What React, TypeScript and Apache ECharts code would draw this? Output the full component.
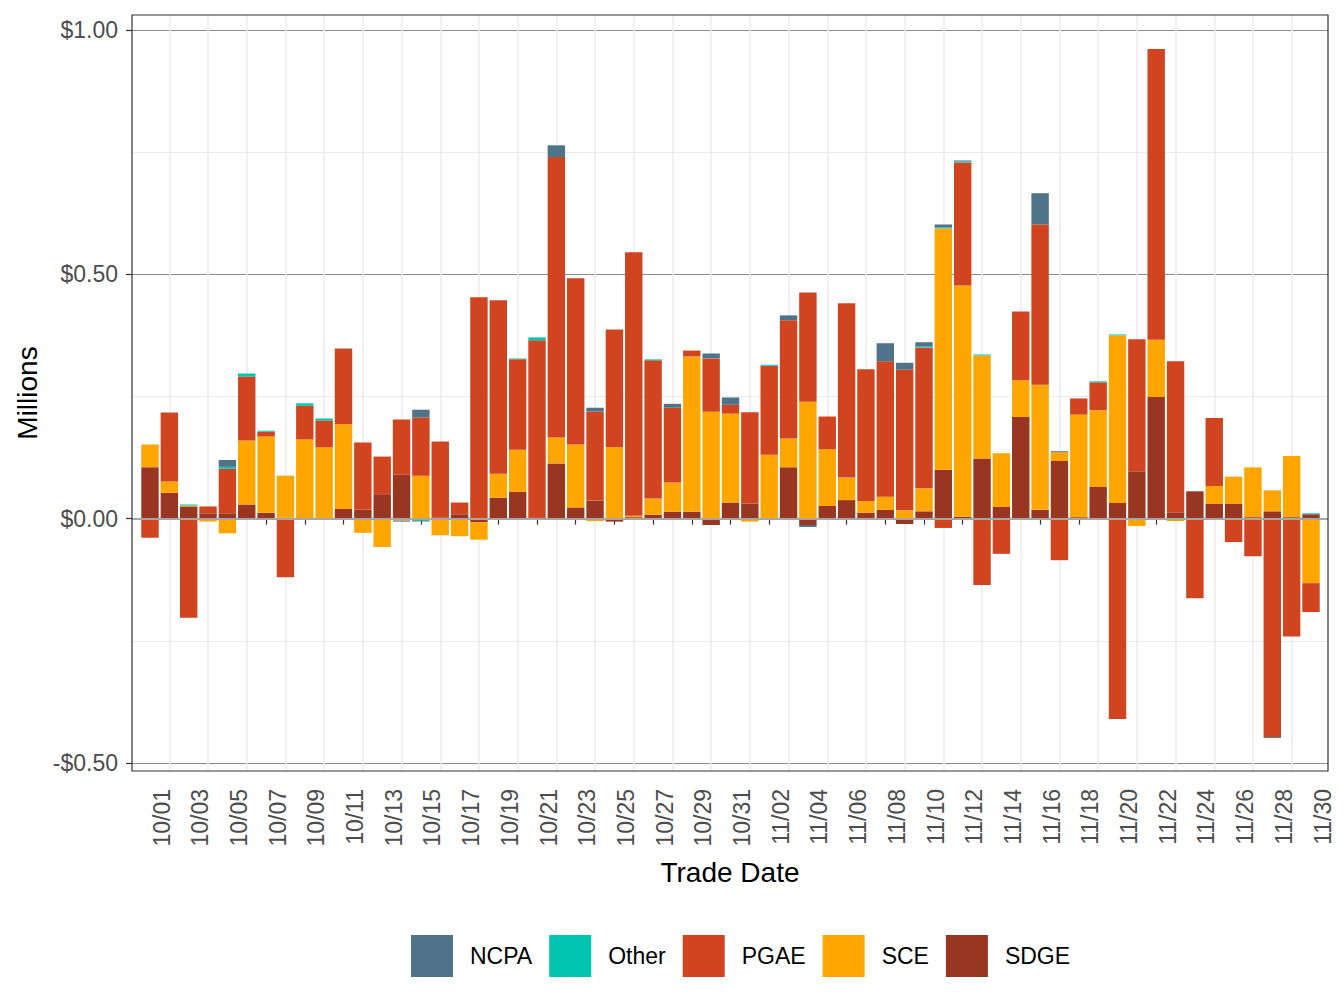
import { useEffect, useRef } from "react";
import * as echarts from "echarts";

// Trade dates, 10/01 .. 11/30
const DATES = [
  "10/01", "10/02", "10/03", "10/04", "10/05", "10/06", "10/07", "10/08", "10/09", "10/10",
  "10/11", "10/12", "10/13", "10/14", "10/15", "10/16", "10/17", "10/18", "10/19", "10/20",
  "10/21", "10/22", "10/23", "10/24", "10/25", "10/26", "10/27", "10/28", "10/29", "10/30",
  "10/31", "11/01", "11/02", "11/03", "11/04", "11/05", "11/06", "11/07", "11/08", "11/09",
  "11/10", "11/11", "11/12", "11/13", "11/14", "11/15", "11/16", "11/17", "11/18", "11/19",
  "11/20", "11/21", "11/22", "11/23", "11/24", "11/25", "11/26", "11/27", "11/28", "11/29",
  "11/30",
];

// $ millions per day, by utility
const SDGE = [
  0.105, 0.053, 0.025, 0.011, 0.011, 0.029, 0.012, 0.002, 0, 0.001,
  0.02, 0.018, 0.05, 0.09, -0.004, 0.002, 0.009, -0.007, 0.043, 0.055,
  0.003, 0.113, 0.023, 0.037, -0.006, 0.003, 0.008, 0.014, 0.014, -0.013,
  0.033, 0.031, 0, 0.105, -0.013, 0.026, 0.038, 0.012, 0.018, -0.011,
  0.015, 0.1, 0.004, 0.123, 0.024, 0.208, 0.018, 0.118, 0.003, 0.065,
  0.032, 0.097, 0.249, 0.013, 0.056, 0.03, 0.03, 0.003, 0.015, 0.003,
  0.009,
];
const SCE = [
  0.047, 0.023, 0.002, -0.006, -0.03, 0.131, 0.156, 0.086, 0.162, 0.145,
  0.173, -0.029, -0.058, -0.004, 0.088, -0.034, -0.036, -0.036, 0.049, 0.086,
  0, 0.053, 0.129, -0.005, 0.146, 0.003, 0.033, 0.06, 0.318, 0.219,
  0.182, -0.006, 0.131, 0.059, 0.239, 0.116, 0.046, 0.024, 0.027, 0.017,
  0.047, 0.494, 0.473, 0.211, 0.11, 0.075, 0.256, 0.018, 0.21, 0.157,
  0.343, -0.015, 0.117, -0.005, 0, 0.037, 0.056, 0.102, 0.043, 0.125,
  -0.132,
];
const PGAE = [
  -0.039, 0.141, -0.203, 0.014, 0.091, 0.131, 0.01, -0.12, 0.069, 0.055,
  0.155, 0.138, 0.077, 0.113, 0.119, 0.156, 0.024, 0.453, 0.355, 0.185,
  0.362, 0.574, 0.34, 0.182, 0.241, 0.539, 0.283, 0.153, 0.012, 0.109,
  0.018, 0.187, 0.182, 0.242, 0.224, 0.067, 0.357, 0.27, 0.277, 0.288,
  0.288, -0.019, 0.252, -0.136, -0.072, 0.141, 0.328, -0.085, 0.033, 0.057,
  -0.41, 0.27, 0.595, 0.309, -0.163, 0.139, -0.048, -0.077, -0.447, -0.241,
  -0.059,
];
const OTHER = [
  0, 0, 0.002, 0, 0.004, 0.006, 0.002, 0, 0.005, 0.004,
  0, 0, 0, 0, -0.002, 0, 0, 0, 0, 0.002,
  0.006, 0, 0, 0, 0, 0, 0.002, 0, 0, 0,
  0, 0, 0.002, 0, 0, 0, 0, 0, 0, 0,
  0.002, 0.002, 0.002, 0.002, 0, 0, 0, 0, 0, 0.002,
  0.002, 0, 0, 0, 0, 0, 0, 0, 0, 0,
  0.002,
];
const NCPA = [
  0, 0, 0, 0, 0.014, 0, 0, 0, 0, 0,
  0, 0, 0, -0.002, 0.016, 0, 0, 0, 0, 0,
  0, 0.024, 0, 0.008, 0, 0, 0, 0.008, 0, 0.01,
  0.015, 0, 0, 0.01, -0.004, 0, 0, 0, 0.037, 0.014,
  0.009, 0.006, 0.002, 0, 0, 0, 0.064, 0.002, 0, 0,
  0, 0, 0, 0, 0, 0, 0, 0, -0.002, 0,
  0,
];

const Y_TICKS = ["-$0.50", "$0.00", "$0.50", "$1.00"];

const COLORS: Record<string, string> = {
  NCPA: "#4F7389",
  Other: "#00C5B1",
  PGAE: "#D04520",
  SCE: "#FFA500",
  SDGE: "#983622",
};

const FONT = "Liberation Sans, Arial, Helvetica, sans-serif";
const TICK_INK = "#4d4d4d";

// panel geometry (ggplot-like): first/last day centres and the panel box
const DAY0_X = 150;
const DAYN_X = 1311;
const STEP = (DAYN_X - DAY0_X) / (DATES.length - 1);

export default function App() {
  const ref = useRef<HTMLDivElement>(null);

  useEffect(() => {
    document.body.style.margin = "0";
    if (!ref.current) return;
    const chart = echarts.init(ref.current, undefined, { renderer: "svg" });

    // stacking order: first series sits next to zero
    const stacks: [string, number[]][] = [
      ["SDGE", SDGE],
      ["SCE", SCE],
      ["PGAE", PGAE],
      ["Other", OTHER],
      ["NCPA", NCPA],
    ];

    const yLabel = (v: number) => {
      const idx = Math.round((v + 0.5) / 0.5);
      return Y_TICKS[idx] ?? "";
    };

    chart.setOption({
      animation: false,
      textStyle: { fontFamily: FONT },
      grid: [
        // panel background: horizontal grid + y axis
        { left: 132, right: 16, top: 30, bottom: 245 },
        // date scale: ticks, labels, vertical grid
        { left: DAY0_X, right: 1344 - DAYN_X, top: 15, bottom: 237 },
        // bars: one category slot per day
        { left: DAY0_X - STEP / 2, right: 1344 - DAYN_X - STEP / 2, top: 15, bottom: 237 },
      ],
      xAxis: [
        { type: "value", gridIndex: 0, min: 0, max: 1, show: false },
        {
          type: "value",
          gridIndex: 1,
          min: 0,
          max: DATES.length - 1,
          interval: 2,
          axisLine: { show: false },
          axisTick: { show: true, length: 6, lineStyle: { color: "#333333", width: 1.2 } },
          axisLabel: {
            formatter: (v: number) => DATES[v] ?? "",
            rotate: 90,
            verticalAlign: "top",
            fontSize: 23,
            color: TICK_INK,
            margin: 18,
            fontFamily: FONT,
          },
          splitLine: { show: false },
          minorTick: { show: false, splitNumber: 2 },
          minorSplitLine: { show: true, lineStyle: { color: "#ebebeb", width: 1.5 } },
        },
        { type: "category", gridIndex: 2, data: DATES, boundaryGap: true, show: false },
      ],
      yAxis: [
        {
          type: "value",
          gridIndex: 0,
          min: -0.5,
          max: 1.0,
          interval: 0.5,
          axisLine: { show: false },
          axisTick: { show: true, length: 6, lineStyle: { color: "#333333", width: 1.2 } },
          axisLabel: { formatter: yLabel, fontSize: 23, color: TICK_INK, margin: 14, fontFamily: FONT },
          splitLine: { show: true, lineStyle: { color: "#8c8c8c", width: 1 } },
          minorTick: { show: false, splitNumber: 2 },
          minorSplitLine: { show: true, lineStyle: { color: "#ebebeb", width: 1.2 } },
        },
        { type: "value", gridIndex: 1, min: -0.5164, max: 1.0307, show: false },
        { type: "value", gridIndex: 2, min: -0.5164, max: 1.0307, show: false },
      ],
      legend: {
        data: ["NCPA", "Other", "PGAE", "SCE", "SDGE"],
        left: 406,
        top: 930,
        orient: "horizontal",
        icon: "rect",
        itemWidth: 42,
        itemHeight: 42,
        itemGap: 17,
        selectedMode: false,
        textStyle: { fontSize: 23, color: "#000000", fontFamily: FONT, padding: [0, 0, 0, 12] },
      },
      series: [
        ...stacks.map(([name, vals]) => ({
          name,
          type: "bar",
          xAxisIndex: 2,
          yAxisIndex: 2,
          stack: "total",
          barWidth: "90%",
          itemStyle: { color: COLORS[name] },
          data: vals,
        })),
        {
          name: "zero",
          type: "line",
          xAxisIndex: 0,
          yAxisIndex: 0,
          data: [],
          z: 10,
          markLine: {
            silent: true,
            symbol: "none",
            label: { show: false },
            lineStyle: { color: "#a6a6a6", width: 2, type: "solid" },
            data: [{ yAxis: 0 }],
          },
        },
      ],
      graphic: [
        {
          type: "rect",
          shape: { x: 132, y: 15, width: 1196, height: 756 },
          style: { fill: "none", stroke: "#333333", lineWidth: 1.2 },
          z: 20,
          silent: true,
        },
        {
          type: "text",
          x: 730,
          y: 872,
          style: {
            text: "Trade Date",
            fontSize: 28,
            fill: "#000000",
            fontFamily: FONT,
            align: "center",
            verticalAlign: "middle",
          },
        },
        {
          type: "text",
          x: 27,
          y: 393,
          rotation: Math.PI / 2,
          style: {
            text: "Millions",
            fontSize: 28,
            fill: "#000000",
            fontFamily: FONT,
            align: "center",
            verticalAlign: "middle",
          },
        },
      ],
    });

    return () => chart.dispose();
  }, []);

  return <div ref={ref} style={{ width: 1344, height: 1008, background: "#ffffff" }} />;
}
